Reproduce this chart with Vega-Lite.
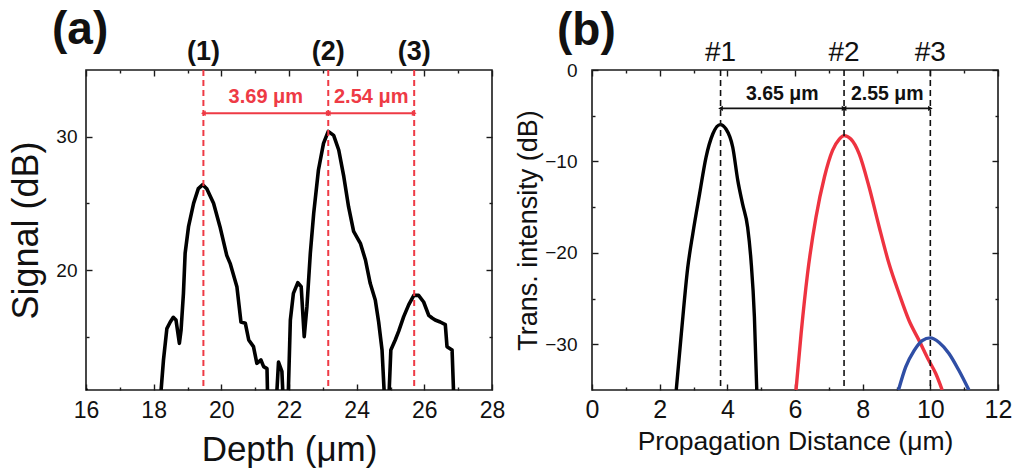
{
  "$schema": "https://vega.github.io/schema/vega-lite/v6.json",
  "background": "white",
  "padding": {"left": 7, "top": 6, "right": 5, "bottom": 5},
  "bounds": "flush",
  "spacing": 100,
  "config": {
    "font": "Liberation Sans",
    "view": {"stroke": "#1a1a1a", "strokeWidth": 1.6},
    "axis": {
      "domain": false,
      "grid": false,
      "tickColor": "#1a1a1a",
      "tickWidth": 1.4,
      "labelColor": "#111",
      "titleColor": "#111",
      "labelFont": "Liberation Sans",
      "titleFont": "Liberation Sans",
      "titleFontWeight": "normal",
      "labelOverlap": false,
      "labelFlush": false,
      "labelBound": false
    },
    "title": {"font": "Liberation Sans", "color": "#111"}
  },
  "datasets": {
    "depthScan": [
      {"depth": 16.0, "signal": 11.1}, {"depth": 16.04, "signal": 8},
      {"depth": 18.2, "signal": 8}, {"depth": 18.22, "signal": 11},
      {"depth": 18.29, "signal": 13.25}, {"depth": 18.39, "signal": 15.6},
      {"depth": 18.49, "signal": 16.1}, {"depth": 18.58, "signal": 16.45},
      {"depth": 18.66, "signal": 16.25}, {"depth": 18.76, "signal": 14.5},
      {"depth": 18.81, "signal": 15.5}, {"depth": 18.88, "signal": 18.25},
      {"depth": 18.93, "signal": 21.25}, {"depth": 19.03, "signal": 23.25},
      {"depth": 19.18, "signal": 25.0}, {"depth": 19.32, "signal": 26.1},
      {"depth": 19.45, "signal": 26.4}, {"depth": 19.57, "signal": 26.1},
      {"depth": 19.77, "signal": 25.0}, {"depth": 19.96, "signal": 23.25},
      {"depth": 20.16, "signal": 21.1}, {"depth": 20.26, "signal": 20.5},
      {"depth": 20.46, "signal": 18.75}, {"depth": 20.58, "signal": 16.1},
      {"depth": 20.71, "signal": 16.0}, {"depth": 20.81, "signal": 14.75},
      {"depth": 20.95, "signal": 14.25}, {"depth": 21.05, "signal": 13.0},
      {"depth": 21.17, "signal": 13.25}, {"depth": 21.25, "signal": 12.75},
      {"depth": 21.35, "signal": 12.6}, {"depth": 21.38, "signal": 9},
      {"depth": 21.6, "signal": 9}, {"depth": 21.69, "signal": 13.1},
      {"depth": 21.79, "signal": 12.4}, {"depth": 21.85, "signal": 9},
      {"depth": 21.96, "signal": 9}, {"depth": 22.04, "signal": 16.25},
      {"depth": 22.13, "signal": 18.25}, {"depth": 22.26, "signal": 19.05},
      {"depth": 22.36, "signal": 18.75}, {"depth": 22.45, "signal": 15.0},
      {"depth": 22.53, "signal": 17.25}, {"depth": 22.63, "signal": 21.25},
      {"depth": 22.73, "signal": 24.25}, {"depth": 22.87, "signal": 27.5},
      {"depth": 23.02, "signal": 29.5}, {"depth": 23.16, "signal": 30.4},
      {"depth": 23.32, "signal": 30.1}, {"depth": 23.47, "signal": 29.0},
      {"depth": 23.62, "signal": 27.0}, {"depth": 23.76, "signal": 24.75},
      {"depth": 23.91, "signal": 22.9}, {"depth": 24.11, "signal": 22.0},
      {"depth": 24.26, "signal": 20.75}, {"depth": 24.4, "signal": 19.0},
      {"depth": 24.55, "signal": 17.75}, {"depth": 24.65, "signal": 16.1},
      {"depth": 24.75, "signal": 14.0}, {"depth": 24.85, "signal": 9},
      {"depth": 24.93, "signal": 9}, {"depth": 25.01, "signal": 14.0},
      {"depth": 25.14, "signal": 14.75}, {"depth": 25.24, "signal": 15.4},
      {"depth": 25.39, "signal": 16.5}, {"depth": 25.54, "signal": 17.4},
      {"depth": 25.69, "signal": 18.1}, {"depth": 25.83, "signal": 18.1},
      {"depth": 25.98, "signal": 17.6}, {"depth": 26.13, "signal": 16.6},
      {"depth": 26.23, "signal": 16.4}, {"depth": 26.32, "signal": 16.25},
      {"depth": 26.47, "signal": 16.1}, {"depth": 26.62, "signal": 15.9},
      {"depth": 26.67, "signal": 14.25}, {"depth": 26.82, "signal": 14.0},
      {"depth": 26.89, "signal": 9}
    ],
    "depthMarkers": [
      {"pos": 19.47, "tag": "(1)"},
      {"pos": 23.16, "tag": "(2)"},
      {"pos": 25.70, "tag": "(3)"}
    ],
    "depthGaps": [
      {"from": 19.47, "to": 23.16, "mid": 21.315, "text": "3.69 μm"},
      {"from": 23.16, "to": 25.70, "mid": 24.43, "text": "2.54 μm"}
    ],
    "beams": [
      {"beam": "#1", "dist": 2.49, "db": -35}, {"beam": "#1", "dist": 2.64, "db": -28.85},
      {"beam": "#1", "dist": 2.83, "db": -21.6}, {"beam": "#1", "dist": 2.98, "db": -17.9},
      {"beam": "#1", "dist": 3.18, "db": -13.55}, {"beam": "#1", "dist": 3.37, "db": -9.55},
      {"beam": "#1", "dist": 3.57, "db": -7.0}, {"beam": "#1", "dist": 3.79, "db": -5.97},
      {"beam": "#1", "dist": 3.96, "db": -6.45}, {"beam": "#1", "dist": 4.16, "db": -8.45},
      {"beam": "#1", "dist": 4.31, "db": -12.1}, {"beam": "#1", "dist": 4.45, "db": -14.65},
      {"beam": "#1", "dist": 4.6, "db": -17.2}, {"beam": "#1", "dist": 4.7, "db": -20.85},
      {"beam": "#1", "dist": 4.8, "db": -27.0}, {"beam": "#1", "dist": 4.87, "db": -35},
      {"beam": "#2", "dist": 6.03, "db": -35}, {"beam": "#2", "dist": 6.18, "db": -28.85},
      {"beam": "#2", "dist": 6.37, "db": -22.3}, {"beam": "#2", "dist": 6.62, "db": -16.1},
      {"beam": "#2", "dist": 6.87, "db": -11.7}, {"beam": "#2", "dist": 7.11, "db": -8.8},
      {"beam": "#2", "dist": 7.31, "db": -7.55}, {"beam": "#2", "dist": 7.45, "db": -7.18},
      {"beam": "#2", "dist": 7.65, "db": -7.55}, {"beam": "#2", "dist": 7.9, "db": -9.2},
      {"beam": "#2", "dist": 8.19, "db": -12.8}, {"beam": "#2", "dist": 8.49, "db": -17.2},
      {"beam": "#2", "dist": 8.78, "db": -21.2}, {"beam": "#2", "dist": 9.08, "db": -24.5},
      {"beam": "#2", "dist": 9.37, "db": -27.4}, {"beam": "#2", "dist": 9.67, "db": -29.6},
      {"beam": "#2", "dist": 9.96, "db": -31.8}, {"beam": "#2", "dist": 10.16, "db": -33.2},
      {"beam": "#2", "dist": 10.35, "db": -35},
      {"beam": "#3", "dist": 9.06, "db": -35}, {"beam": "#3", "dist": 9.27, "db": -32.5},
      {"beam": "#3", "dist": 9.52, "db": -30.7}, {"beam": "#3", "dist": 9.76, "db": -29.6},
      {"beam": "#3", "dist": 10.0, "db": -29.3}, {"beam": "#3", "dist": 10.26, "db": -29.8},
      {"beam": "#3", "dist": 10.55, "db": -31.0}, {"beam": "#3", "dist": 10.85, "db": -32.9},
      {"beam": "#3", "dist": 11.14, "db": -35}
    ],
    "beamMarkers": [
      {"pos": 3.8, "tag": "#1"},
      {"pos": 7.45, "tag": "#2"},
      {"pos": 10.0, "tag": "#3"}
    ],
    "beamGaps": [
      {"from": 3.8, "to": 7.45, "mid": 5.625, "text": "3.65 μm"},
      {"from": 7.45, "to": 10.0, "mid": 8.725, "text": "2.55 μm"}
    ]
  },
  "hconcat": [
    {
      "width": 406,
      "height": 320,
      "title": {"text": "(a)", "anchor": "start", "frame": "group", "fontSize": 46, "fontWeight": "bold", "dx": -34, "dy": 16, "offset": 0},
      "resolve": {"axis": {"x": "independent", "y": "independent"}},
      "layer": [
        {
          "data": {"name": "depthScan"},
          "mark": {"type": "line", "clip": true, "color": "#000", "strokeWidth": 3.6, "strokeJoin": "round"},
          "encoding": {
            "x": {"field": "depth", "type": "quantitative", "scale": {"domain": [16, 28], "nice": false, "zero": false},
              "axis": {"orient": "bottom", "values": [16, 17, 18, 19, 20, 21, 22, 23, 24, 25, 26, 27, 28],
                "labelExpr": "datum.value % 2 === 0 ? datum.label : ''",
                "tickSize": {"condition": {"test": "datum.value % 2 !== 0", "value": -3}, "value": -6},
                "labelPadding": 15, "labelFontSize": 23,
                "title": "Depth (μm)", "titleFontSize": 35, "titleY": 70, "titleBaseline": "alphabetic"}},
            "y": {"field": "signal", "type": "quantitative", "scale": {"domain": [11, 35], "nice": false, "zero": false},
              "axis": {"orient": "left", "values": [15, 20, 25, 30],
                "labelExpr": "datum.value % 10 === 0 ? datum.label : ''",
                "tickSize": {"condition": {"test": "datum.value % 10 !== 0", "value": -3}, "value": -6},
                "labelPadding": 15, "labelFontSize": 19,
                "title": "Signal (dB)", "titleFontSize": 36, "titleX": -49, "titleBaseline": "alphabetic"}}
          }
        },
        {
          "data": {"name": "depthGaps"},
          "mark": {"type": "rule", "color": "#ee3a45", "strokeWidth": 2},
          "encoding": {
            "x": {"field": "from", "type": "quantitative", "scale": {"domain": [16, 28], "nice": false, "zero": false},
              "axis": {"orient": "top", "values": [16, 17, 18, 19, 20, 21, 22, 23, 24, 25, 26, 27, 28], "labels": false, "title": null,
                "tickSize": {"condition": {"test": "datum.value % 2 !== 0", "value": -3}, "value": -6}}},
            "x2": {"field": "to"},
            "y": {"datum": 31.75, "type": "quantitative", "scale": {"domain": [11, 35], "nice": false, "zero": false},
              "axis": {"orient": "right", "values": [15, 20, 25, 30], "labels": false, "title": null,
                "tickSize": {"condition": {"test": "datum.value % 10 !== 0", "value": -3}, "value": -6}}}
          }
        },
        {
          "data": {"name": "depthMarkers"},
          "mark": {"type": "rule", "color": "#ee3a45", "strokeWidth": 2, "strokeDash": [6, 4]},
          "encoding": {
            "x": {"field": "pos", "type": "quantitative", "axis": null, "scale": {"domain": [16, 28], "nice": false, "zero": false}}
          }
        },
        {
          "data": {"name": "depthGaps"},
          "mark": {"type": "point", "shape": "triangle-left", "filled": true, "opacity": 1, "color": "#ee3a45", "size": 30},
          "encoding": {
            "x": {"field": "from", "type": "quantitative", "axis": null, "scale": {"domain": [16, 28], "nice": false, "zero": false}},
            "y": {"datum": 31.75, "type": "quantitative", "axis": null, "scale": {"domain": [11, 35], "nice": false, "zero": false}}
          }
        },
        {
          "data": {"name": "depthGaps"},
          "mark": {"type": "point", "shape": "triangle-right", "filled": true, "opacity": 1, "color": "#ee3a45", "size": 30},
          "encoding": {
            "x": {"field": "to", "type": "quantitative", "axis": null, "scale": {"domain": [16, 28], "nice": false, "zero": false}},
            "y": {"datum": 31.75, "type": "quantitative", "axis": null, "scale": {"domain": [11, 35], "nice": false, "zero": false}}
          }
        },
        {
          "data": {"name": "depthGaps"},
          "mark": {"type": "text", "color": "#ee3a45", "fontSize": 20, "fontWeight": "bold", "baseline": "middle"},
          "encoding": {
            "x": {"field": "mid", "type": "quantitative", "axis": null, "scale": {"domain": [16, 28], "nice": false, "zero": false}},
            "y": {"datum": 33.0, "type": "quantitative", "axis": null, "scale": {"domain": [11, 35], "nice": false, "zero": false}},
            "text": {"field": "text"}
          }
        },
        {
          "data": {"name": "depthMarkers"},
          "mark": {"type": "text", "color": "#111", "fontSize": 27, "fontWeight": "bold", "baseline": "middle"},
          "encoding": {
            "x": {"field": "pos", "type": "quantitative", "axis": null, "scale": {"domain": [16, 28], "nice": false, "zero": false}},
            "y": {"datum": 36.35, "type": "quantitative", "axis": null, "scale": {"domain": [11, 35], "nice": false, "zero": false}},
            "text": {"field": "tag"}
          }
        }
      ]
    },
    {
      "width": 406,
      "height": 320,
      "title": {"text": "(b)", "anchor": "start", "frame": "group", "fontSize": 46, "fontWeight": "bold", "dx": -35, "dy": 16, "offset": 0},
      "resolve": {"axis": {"x": "independent", "y": "independent"}},
      "layer": [
        {
          "data": {"name": "beams"},
          "mark": {"type": "line", "clip": true, "strokeWidth": 3.4, "interpolate": "monotone"},
          "encoding": {
            "x": {"field": "dist", "type": "quantitative", "scale": {"domain": [0, 12], "nice": false, "zero": false},
              "axis": {"orient": "bottom", "values": [0, 1, 2, 3, 4, 5, 6, 7, 8, 9, 10, 11, 12],
                "labelExpr": "datum.value % 2 === 0 ? datum.label : ''",
                "tickSize": {"condition": {"test": "datum.value % 2 !== 0", "value": -3}, "value": -6},
                "labelPadding": 13, "labelFontSize": 25,
                "title": "Propagation Distance (μm)", "titleFontSize": 26.5, "titleY": 59, "titleBaseline": "alphabetic"}},
            "y": {"field": "db", "type": "quantitative", "scale": {"domain": [-35, 0], "nice": false, "zero": false},
              "axis": {"orient": "left", "values": [-30, -25, -20, -15, -10, -5, 0],
                "labelExpr": "datum.value % 10 === 0 ? datum.label : ''",
                "tickSize": {"condition": {"test": "datum.value % 10 !== 0", "value": -3}, "value": -6},
                "labelPadding": 21, "labelFontSize": 19,
                "title": "Trans. intensity (dB)", "titleFontSize": 27, "titleX": -55.6, "titleBaseline": "alphabetic"}},
            "color": {"field": "beam", "type": "nominal", "legend": null,
              "scale": {"domain": ["#1", "#2", "#3"], "range": ["#000000", "#ee3340", "#2f4ea5"]}}
          }
        },
        {
          "data": {"name": "beamGaps"},
          "mark": {"type": "rule", "color": "#111", "strokeWidth": 1.6},
          "encoding": {
            "x": {"field": "from", "type": "quantitative", "scale": {"domain": [0, 12], "nice": false, "zero": false},
              "axis": {"orient": "top", "values": [0, 1, 2, 3, 4, 5, 6, 7, 8, 9, 10, 11, 12], "labels": false, "title": null,
                "tickSize": {"condition": {"test": "datum.value % 2 !== 0", "value": -3}, "value": -6}}},
            "x2": {"field": "to"},
            "y": {"datum": -4.2, "type": "quantitative", "scale": {"domain": [-35, 0], "nice": false, "zero": false},
              "axis": {"orient": "right", "values": [-30, -25, -20, -15, -10, -5, 0], "labels": false, "title": null,
                "tickSize": {"condition": {"test": "datum.value % 10 !== 0", "value": -3}, "value": -6}}}
          }
        },
        {
          "data": {"name": "beamMarkers"},
          "mark": {"type": "rule", "color": "#111", "strokeWidth": 1.6, "strokeDash": [6, 4]},
          "encoding": {
            "x": {"field": "pos", "type": "quantitative", "axis": null, "scale": {"domain": [0, 12], "nice": false, "zero": false}}
          }
        },
        {
          "data": {"name": "beamGaps"},
          "mark": {"type": "point", "shape": "triangle-left", "filled": true, "opacity": 1, "color": "#111", "size": 28},
          "encoding": {
            "x": {"field": "from", "type": "quantitative", "axis": null, "scale": {"domain": [0, 12], "nice": false, "zero": false}},
            "y": {"datum": -4.2, "type": "quantitative", "axis": null, "scale": {"domain": [-35, 0], "nice": false, "zero": false}}
          }
        },
        {
          "data": {"name": "beamGaps"},
          "mark": {"type": "point", "shape": "triangle-right", "filled": true, "opacity": 1, "color": "#111", "size": 28},
          "encoding": {
            "x": {"field": "to", "type": "quantitative", "axis": null, "scale": {"domain": [0, 12], "nice": false, "zero": false}},
            "y": {"datum": -4.2, "type": "quantitative", "axis": null, "scale": {"domain": [-35, 0], "nice": false, "zero": false}}
          }
        },
        {
          "data": {"name": "beamGaps"},
          "mark": {"type": "text", "color": "#111", "fontSize": 19.5, "fontWeight": "bold", "baseline": "middle"},
          "encoding": {
            "x": {"field": "mid", "type": "quantitative", "axis": null, "scale": {"domain": [0, 12], "nice": false, "zero": false}},
            "y": {"datum": -2.6, "type": "quantitative", "axis": null, "scale": {"domain": [-35, 0], "nice": false, "zero": false}},
            "text": {"field": "text"}
          }
        },
        {
          "data": {"name": "beamMarkers"},
          "mark": {"type": "text", "color": "#111", "fontSize": 28, "baseline": "middle"},
          "encoding": {
            "x": {"field": "pos", "type": "quantitative", "axis": null, "scale": {"domain": [0, 12], "nice": false, "zero": false}},
            "y": {"datum": 1.9, "type": "quantitative", "axis": null, "scale": {"domain": [-35, 0], "nice": false, "zero": false}},
            "text": {"field": "tag"}
          }
        }
      ]
    }
  ]
}
